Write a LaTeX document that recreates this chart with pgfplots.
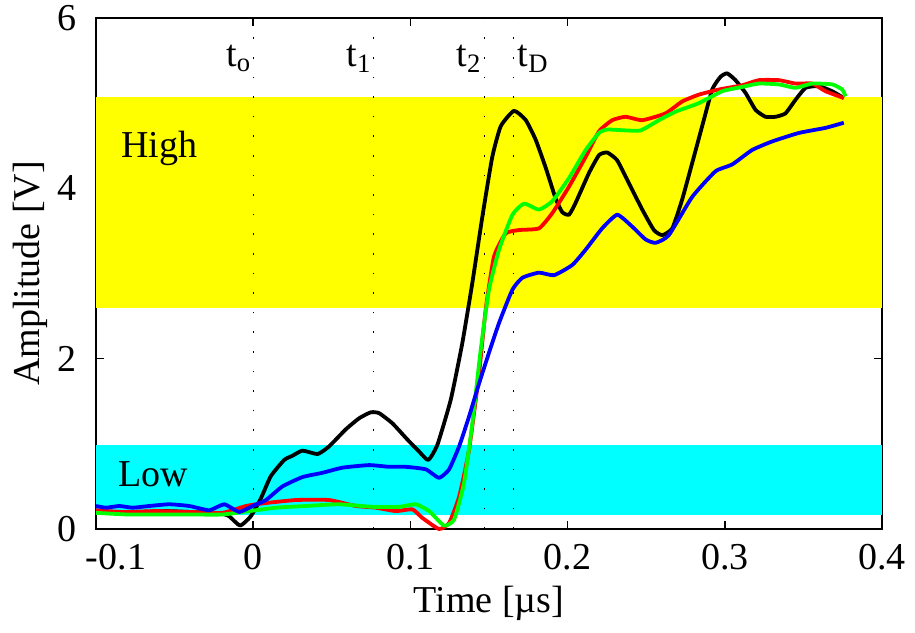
\documentclass[border=0pt]{standalone}
\usepackage{fontspec}
\setmainfont{Liberation Serif}
\usepackage{pgfplots}
\pgfplotsset{compat=1.18}
\begin{document}
\fontsize{19}{23}\selectfont
\begin{tikzpicture}
\begin{axis}[
  scale only axis, width=393pt, height=255.5pt,
  xmin=-0.1, xmax=0.4, ymin=0, ymax=6,
  xtick={-0.1,0,0.1,0.2,0.3,0.4},
  xticklabels={\makebox[0pt][l]{\hspace*{-5pt}-0.1},0,0.1,0.2,0.3,0.4},
  ytick={0,2,4,6}, yticklabels={0,2,4,6},
  /pgf/number format/assume math mode=true,
  tick align=inside, major tick length=4pt,
  tick style={black, line width=0.8pt},
  axis line style={line width=1pt},
  ticklabel style={font=\fontsize{19}{23}\selectfont},
  xticklabel style={yshift=-1pt},
  yticklabel style={xshift=-3pt},
  clip=false,
]
% bands
\addplot[draw=none, fill={rgb,1:red,1;green,1;blue,0}] coordinates {(-0.1,2.59) (0.4,2.59) (0.4,5.07) (-0.1,5.07)} -- cycle;
\addplot[draw=none, fill={rgb,1:red,0;green,1;blue,1}] coordinates {(-0.1,0.16) (0.4,0.16) (0.4,0.99) (-0.1,0.99)} -- cycle;
% dotted markers
\addplot[black, line width=0.6pt, dash pattern=on 0.8pt off 9pt] coordinates {(0,0) (0,6)};
\addplot[black, line width=0.6pt, dash pattern=on 0.8pt off 9pt] coordinates {(0.0765,0) (0.0765,6)};
\addplot[black, line width=0.6pt, dash pattern=on 0.8pt off 9pt] coordinates {(0.1473,0) (0.1473,6)};
\addplot[black, line width=0.6pt, dash pattern=on 0.8pt off 9pt] coordinates {(0.1657,0) (0.1657,6)};
% black
\addplot[black, line width=1.9pt, line join=round, smooth, tension=0.3] coordinates {
(-0.1,0.20) (-0.085,0.19) (-0.07,0.20) (-0.055,0.21) (-0.04,0.20) (-0.028,0.19) (-0.02,0.18) (-0.0153,0.15) (-0.0083,0.04) (-0.0015,0.15) (0.0049,0.36) (0.0112,0.62) (0.0197,0.81) (0.025,0.86) (0.0314,0.92) (0.041,0.88) (0.0483,0.97) (0.0589,1.17) (0.0674,1.30) (0.0748,1.37) (0.0801,1.36) (0.0886,1.24) (0.0981,1.05) (0.1055,0.91) (0.1114,0.81) (0.1172,0.99) (0.1257,1.52) (0.133,2.18) (0.1394,2.89) (0.1458,3.67) (0.1521,4.37) (0.1575,4.73) (0.1659,4.91) (0.1734,4.80) (0.1797,4.57) (0.1861,4.24) (0.1924,3.88) (0.1966,3.72) (0.2009,3.69) (0.2051,3.83) (0.2136,4.18) (0.22,4.39) (0.2252,4.42) (0.2315,4.33) (0.239,4.06) (0.2475,3.75) (0.2549,3.51) (0.2602,3.45) (0.2666,3.53) (0.2729,3.87) (0.2793,4.30) (0.2856,4.73) (0.292,5.16) (0.2973,5.31) (0.3015,5.35) (0.3068,5.27) (0.3132,5.12) (0.3196,4.92) (0.3259,4.84) (0.3323,4.84) (0.3386,4.88) (0.345,5.04) (0.3514,5.18) (0.3598,5.20) (0.3683,5.14) (0.3757,5.06)};
% red
\addplot[red, line width=1.9pt, line join=round, smooth, tension=0.3] coordinates {
(-0.1,0.22) (-0.083,0.20) (-0.062,0.21) (-0.04,0.20) (-0.0195,0.19) (-0.0046,0.27) (0.0059,0.30) (0.0271,0.34) (0.0483,0.34) (0.0653,0.27) (0.078,0.25) (0.0907,0.21) (0.1013,0.23) (0.1076,0.13) (0.1182,0.0) (0.1246,0.07) (0.131,0.38) (0.1373,0.93) (0.1437,1.83) (0.1479,2.58) (0.1532,3.20) (0.1606,3.47) (0.1691,3.51) (0.1818,3.53) (0.1903,3.71) (0.2009,4.02) (0.2115,4.37) (0.22,4.67) (0.2284,4.80) (0.2369,4.84) (0.2475,4.80) (0.2623,4.88) (0.2729,5.02) (0.2835,5.10) (0.2962,5.16) (0.311,5.21) (0.3217,5.27) (0.3344,5.27) (0.345,5.23) (0.3556,5.23) (0.3641,5.14) (0.3757,5.06)};
% green
\addplot[green, line width=1.9pt, line join=round, smooth, tension=0.3] coordinates {
(-0.1,0.19) (-0.08,0.17) (-0.06,0.17) (-0.04,0.17) (-0.0195,0.17) (-0.0025,0.21) (0.0144,0.25) (0.0335,0.27) (0.0547,0.29) (0.0758,0.26) (0.0928,0.26) (0.1034,0.29) (0.1119,0.21) (0.1214,0.04) (0.1278,0.11) (0.1341,0.54) (0.1394,1.24) (0.1447,2.10) (0.15,2.81) (0.1564,3.28) (0.1649,3.69) (0.1723,3.82) (0.1818,3.75) (0.1903,3.85) (0.2009,4.12) (0.2115,4.45) (0.22,4.65) (0.2252,4.69) (0.2369,4.68) (0.2465,4.68) (0.2581,4.80) (0.2687,4.90) (0.2835,5.00) (0.2984,5.14) (0.311,5.19) (0.3217,5.23) (0.3344,5.22) (0.345,5.18) (0.3556,5.23) (0.3683,5.22) (0.3747,5.16) (0.3768,5.08)};
% blue
\addplot[blue, line width=1.9pt, line join=round, smooth, tension=0.3] coordinates {
(-0.1,0.27) (-0.0937,0.25) (-0.0852,0.27) (-0.0767,0.25) (-0.0661,0.27) (-0.0534,0.29) (-0.0407,0.27) (-0.028,0.22) (-0.0184,0.29) (-0.0089,0.20) (-0.0004,0.27) (0.0081,0.34) (0.0186,0.50) (0.0314,0.61) (0.0441,0.66) (0.0568,0.72) (0.0737,0.75) (0.0865,0.73) (0.0971,0.73) (0.1098,0.70) (0.1182,0.60) (0.1246,0.70) (0.131,0.97) (0.1373,1.32) (0.1437,1.71) (0.15,2.07) (0.1564,2.42) (0.1649,2.81) (0.1713,2.95) (0.1818,3.01) (0.1914,2.98) (0.203,3.10) (0.2115,3.28) (0.222,3.53) (0.2316,3.69) (0.2411,3.55) (0.2496,3.40) (0.256,3.36) (0.2644,3.45) (0.2793,3.90) (0.2941,4.20) (0.3047,4.28) (0.3174,4.45) (0.3301,4.55) (0.3471,4.65) (0.3641,4.71) (0.3757,4.77)};
% texts
\node[anchor=base east, inner sep=0pt] at (axis cs:-0.001,5.43) {t\textsubscript{o}};
\node[anchor=base east, inner sep=0pt] at (axis cs:0.0755,5.43) {t\textsubscript{1}};
\node[anchor=base east, inner sep=0pt] at (axis cs:0.1455,5.43) {t\textsubscript{2}};
\node[anchor=base west, inner sep=0pt] at (axis cs:0.168,5.43) {t\textsubscript{D}};
\node[anchor=base west, inner sep=0pt] at (axis cs:-0.084,4.36) {High};
\node[anchor=base west, inner sep=0pt] at (axis cs:-0.086,0.50) {Low};
\node[anchor=center] at ([yshift=-37pt]axis description cs:0.5,0) {Time [µs]};
\node[anchor=center, rotate=90] at ([xshift=-33pt]axis description cs:0,0.5) {Amplitude [V]};
\end{axis}
\pgfresetboundingbox
\path[use as bounding box] ([xshift=-48pt,yshift=-52pt]current axis.south west) rectangle ([xshift=16.5pt,yshift=9pt]current axis.north east);
\end{tikzpicture}
\end{document}
